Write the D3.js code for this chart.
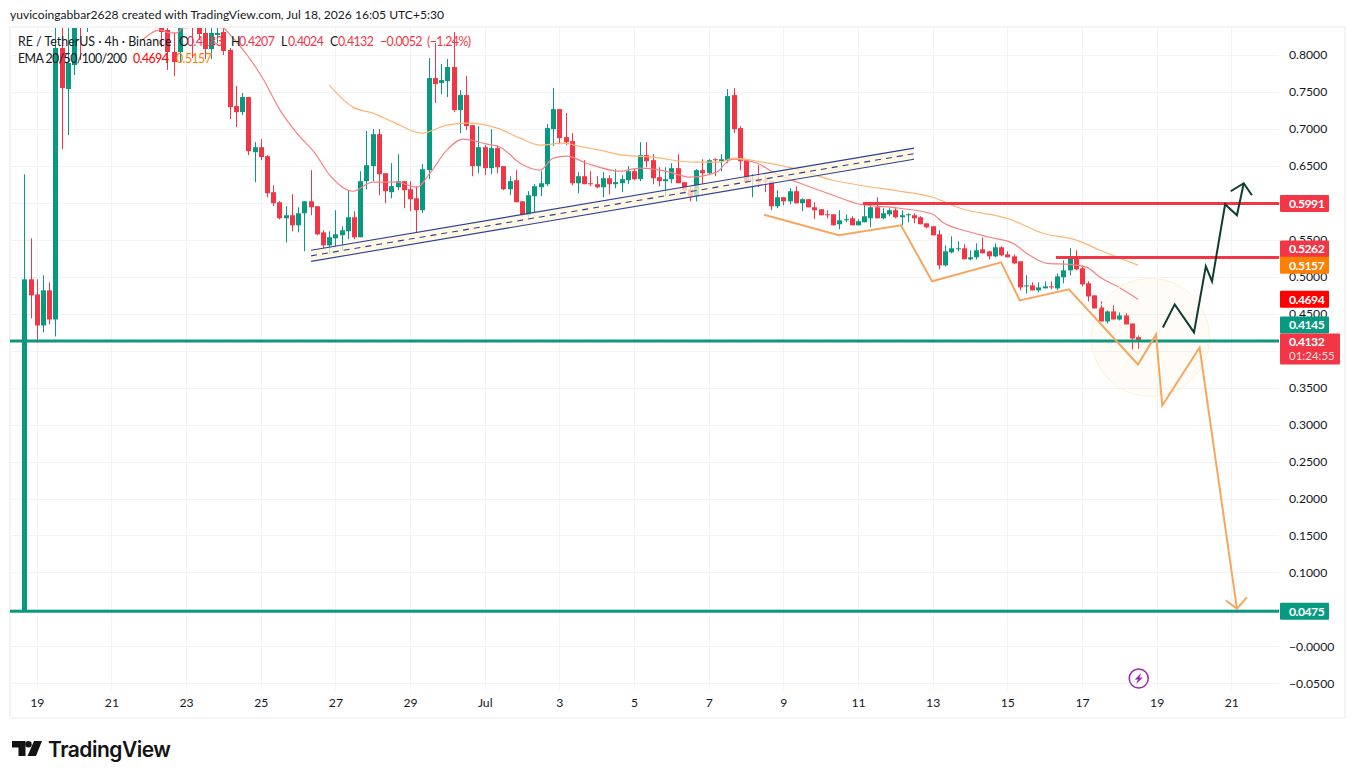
<!DOCTYPE html>
<html>
<head>
<meta charset="utf-8">
<title>RE / TetherUS</title>
<script src="https://cdn.jsdelivr.net/npm/d3@7"></script>
<style>
  html, body { margin: 0; padding: 0; background: #fff; }
  svg { display: block; }
  text { font-family: Lato, sans-serif; fill: #131722; }
</style>
</head>
<body>
<div id="chart"></div>
<script>
// 4h candles, one entry per bar. null = bar is above the visible range, cannot be read
var opens = [
  .0475,.4965,.4761,.4341,.4816,.4422,.8095,.7539,.7864,.92,
  .868,null,null,null,null,null,null,null,null,null,
  null,null,.854,.8339,.8040,.8040,null,.875,.8474,.8298,
  .8081,.8271,.8311,.8068,.7309,.7227,.7431,.6685,.6753,.6631,
  .6144,.6008,.5791,.5832,.5696,.5859,.6021,.5954,.5601,.5425,
  .5520,.5561,.5615,.5805,.5534,.6293,.6496,.6929,.6401,.6144,
  .6211,.6293,.6184,.6062,.5900,.6442,.7688,.7620,.7647,.7837,
  .7255,.7458,.7051,.6496,.6753,.6469,.6740,.6496,.6184,.6306,
  .6021,.5832,.6089,.6211,.6252,.6997,.7268,.6889,.6835,.6265,
  .6360,.6265,.6252,.6211,.6333,.6252,.6265,.6306,.6428,.6320,
  .6645,.6577,.6347,.6293,.6320,.6469,.6279,.6184,.6089,.6442,
  .6401,.6590,.6563,.6577,.7458,.7011,.6577,.6306,.6320,.6306,
  .6293,.5954,.6076,.6021,.6157,.5994,.6049,.5940,.5913,.5845,
  .5845,.5710,.5764,.5791,.5696,.5737,.5791,.5940,.5791,.5845,
  .5900,.5805,.5832,.5832,.5805,.5723,.5683,.5574,.5154,.5330,
  .5371,.5385,.5236,.5263,.5371,.5344,.5276,.5398,.5303,.5276,
  .5209,.4870,.4883,.4816,.4843,.4870,.4843,.4992,.5087,.5249,
  .5114,.4911,.4748,.4585,.4395,.4531,.4422,.4477,.4368,.4183
];
var highs = [
  .6387,.5520,.4965,.5019,.4924,.861,.854,.861,.875,.93,
  .94,null,null,null,null,null,null,null,null,null,
  null,null,.868,.8406,.8298,.875,null,.89,.861,.8366,
  .8420,.8406,.8406,.8095,.7580,.7485,.7431,.6821,.6862,.6645,
  .6238,.6021,.5954,.6116,.5940,.6021,.6442,.5954,.5629,.5615,
  .5900,.5683,.6171,.5886,.6428,.6970,.6997,.6997,.6401,.6536,
  .6658,.6293,.6293,.6225,.6523,.7959,.8162,.7878,.7946,.8311,
  .7526,.7715,.7051,.7038,.6780,.6997,.6780,.6496,.6360,.6442,
  .6021,.6157,.6252,.6428,.7065,.7553,.7268,.7214,.6943,.6415,
  .6577,.6428,.6360,.6415,.6374,.6455,.6374,.6496,.6455,.6821,
  .6821,.6658,.6482,.6482,.6536,.6658,.6279,.6211,.6455,.6590,
  .6590,.6604,.6658,.7539,.7553,.7038,.6577,.6387,.6509,.6374,
  .6293,.6171,.6076,.6198,.6225,.6062,.6049,.6008,.5913,.5900,
  .5845,.5900,.5845,.5818,.5778,.5981,.5994,.6076,.5927,.5927,
  .5927,.5900,.5859,.5859,.5818,.5723,.5683,.5629,.5425,.5547,
  .5479,.5439,.5358,.5452,.5534,.5344,.5452,.5412,.5344,.5303,
  .5209,.5019,.4924,.4924,.4938,.4938,.5046,.5222,.5385,.5358,
  .5154,.4938,.4748,.4667,.4545,.4612,.4518,.4504,.4368,.4207
];
var lows = [
  .0475,.4436,.4111,.4247,.4355,.4192,.6726,.6916,.7729,.7932,
  .8311,null,null,null,null,null,null,null,null,null,
  null,null,.8108,.7797,.7715,.7905,null,.7959,.8203,.7946,
  .7946,.8162,.8000,.7133,.7024,.7187,.6645,.6279,.6577,.6076,
  .5954,.5778,.5466,.5615,.5601,.5344,.5832,.5561,.5385,.5303,
  .5398,.5358,.5507,.5507,.5534,.6184,.6293,.6103,.5994,.6062,
  .6171,.5927,.5886,.5601,.5859,.6320,.7349,.7471,.7431,.7227,
  .6943,.6984,.6360,.6401,.6374,.6387,.6401,.6171,.6103,.6008,
  .5818,.5805,.5873,.6089,.6225,.6767,.6794,.6780,.6238,.6130,
  .6252,.6225,.6198,.6076,.6116,.6198,.6144,.6252,.6306,.6293,
  .6482,.6252,.6225,.6089,.6265,.6265,.6130,.6021,.6021,.6252,
  .6387,.6360,.6428,.6536,.6943,.6442,.6279,.6076,.6211,.6144,
  .5900,.5927,.5967,.5981,.5994,.5886,.5940,.5778,.5832,.5791,
  .5696,.5642,.5737,.5696,.5696,.5737,.5669,.5791,.5778,.5818,
  .5791,.5696,.5737,.5723,.5710,.5656,.5561,.5100,.5141,.5317,
  .5344,.5236,.5222,.5236,.5317,.5236,.5263,.5276,.5263,.5168,
  .4816,.4775,.4816,.4789,.4843,.4829,.4816,.4911,.5019,.5087,
  .4870,.4667,.4572,.4395,.4368,.4422,.4409,.4355,.4016,.4024
];
var closes = [
  .4965,.4748,.4341,.4816,.4422,.8095,.7553,.7891,.861,.861,
  .93,null,null,null,null,null,null,null,null,null,
  null,null,.8311,.8040,.7905,.861,null,.8474,.8284,.8081,
  .8298,.8298,.8054,.7295,.7227,.7431,.6699,.6753,.6618,.6130,
  .5994,.5791,.5832,.5696,.5859,.6021,.5940,.5574,.5425,.5534,
  .5574,.5629,.5805,.5534,.6293,.6509,.6929,.6387,.6157,.6225,
  .6293,.6171,.6049,.5900,.6455,.7688,.7607,.7661,.7837,.7255,
  .7458,.7038,.6496,.6753,.6469,.6740,.6482,.6184,.6293,.6008,
  .5832,.6103,.6225,.6265,.7011,.7268,.6875,.6821,.6265,.6360,
  .6252,.6252,.6211,.6333,.6252,.6279,.6320,.6428,.6320,.6645,
  .6563,.6333,.6293,.6320,.6469,.6265,.6171,.6089,.6442,.6401,
  .6577,.6577,.6590,.7444,.6997,.6563,.6279,.6320,.6279,.6293,
  .5954,.6076,.6021,.6157,.5994,.6049,.5940,.5900,.5832,.5832,
  .5696,.5764,.5778,.5696,.5751,.5818,.5940,.5791,.5859,.5900,
  .5805,.5832,.5845,.5791,.5710,.5669,.5561,.5154,.5344,.5385,
  .5385,.5236,.5263,.5358,.5317,.5276,.5398,.5290,.5263,.5181,
  .4856,.4883,.4816,.4856,.4870,.4856,.5005,.5087,.5249,.5100,
  .4897,.4734,.4572,.4395,.4531,.4422,.4477,.4355,.4165,.4132
];

// EMA lines: bar number and price at the points
var ema20Bars = [19,20.2,21.8,23.4,24.5,25.5,29.4,31.9,33.1,35.8,38.2,41.1,43.8,46.7,49.1,52.8,56,59.9,63.1,65.2,67.9,70.5,74.4,76.5,79.7,82.9,85,87.2,90.4,95.7,98.9,102.2,104.3,107,111.3,112.9,113.9,117.8,120.3,124.7,130,134.3,140.7,146,147.6,151.5,155.2,158.9,161.6,164.4,168,170.8,172.9,176,179];
var ema20Values = [.8203,.8284,.8339,.8298,.8298,.8366,.8379,.8366,.8271,.8000,.7702,.7255,.6943,.6672,.6374,.6157,.6279,.6279,.6211,.6401,.6713,.6862,.6794,.6753,.6536,.6442,.6604,.6631,.6536,.6428,.6469,.6442,.6401,.6347,.6415,.6550,.6590,.6536,.6415,.6265,.6103,.5981,.5927,.5845,.5737,.5615,.5534,.5452,.5290,.5181,.5168,.5127,.4992,.4856,.4694];
var ema50Bars = [49,52.8,56,59.3,63.9,67.9,71.2,76,79.7,82.9,86.6,89.8,92.5,96.2,101,107.5,111.8,113.9,118.7,123.5,130,134.3,140.7,146,150.4,158.4,163.7,169.2,172.9,179];
var ema50Values = [.7593,.7295,.7214,.7092,.6943,.7051,.7078,.7011,.6875,.6780,.6807,.6753,.6713,.6645,.6618,.6550,.6550,.6604,.6550,.6469,.6306,.6238,.6157,.6076,.5927,.5778,.5588,.5493,.5358,.5157];

// drawings on the chart, bar number + price
var channelBars = [46.1, 143];
var channelTop = [.5358, .6740];
var channelMid = [.5283, .6665];
var channelBottom = [.5208, .6590];

var bearBars = [118.9,130.9,140.9,145.9,157,160,167.9,179,181.9,182.9,188.9,194.9];
var bearPrices = [.5838,.5561,.5696,.4938,.5195,.4680,.4829,.3813,.4219,.3257,.4043,.0507];
var bearHeadBars = [193.1,194.9,196.5];
var bearHeadPrices = [.0624,.0507,.0665];

var bullBars = [183,184.9,188,189.9,190.9,193,194.9,196];
var bullPrices = [.4314,.4626,.4247,.5141,.4938,.5981,.5832,.6265];
var bullHeadBars = [193.9,196,197.3];
var bullHeadPrices = [.6157,.6265,.6103];

var circleBar = 181, circlePrice = .4179, circleBarRadius = 9.5;

// horizontal levels
var levelPrices = [.4132, .0475, .5991, .5262];
var levelStartBars = [null, null, 134.8, 165.8];
var levelColors = ["#089981", "#089981", "#f23645", "#f23645"];

// axis ticks, the empty labels sit fully behind a price tag in the picture
var priceTicks = [.8,.75,.7,.65,.6,.55,.5,.45,.4,.35,.3,.25,.2,.15,.1,.05,0,-.05];
var priceTickLabels = ["0.8000","0.7500","0.7000","0.6500","","0.5500","0.5000","0.4500","","0.3500","0.3000","0.2500","0.2000","0.1500","0.1000","","\u22120.0000","\u22120.0500"];
var timeTickBars = [2,14,26,38,50,62,74,86,98,110,122,134,146,158,170,182,194];
var timeTickLabels = ["19","21","23","25","27","29","Jul","3","5","7","9","11","13","15","17","19","21"];

// price tags on the right, nudge = how far the tag is pushed off its price to avoid overlap
var tagValues = [.5991,.5262,.5157,.4694,.4145,.0475];
var tagLabels = ["0.5991","0.5262","0.5157","0.4694","0.4145","0.0475"];
var tagColors = ["#f23645","#f23645","#ff7f00","#ff0000","#089981","#089981"];
var tagNudge = [0,-8.5,0,0,-15,0];

var svgWidth = 1355;
var svgHeight = 779;
var plot = { left: 10, right: 1279, top: 28, bottom: 690 };
var up = "#089981";
var down = "#f23645";

var svg = d3.select("#chart").append("svg")
  .attr("width", svgWidth)
  .attr("height", svgHeight);

var x = d3.scaleLinear().domain([0, 179]).range([24.3, 1138]);
var y = d3.scaleLinear().domain([.8, -.05]).range([55, 683.3]);

svg.append("defs").append("clipPath").attr("id", "plotClip")
  .append("rect")
  .attr("x", plot.left).attr("y", plot.top)
  .attr("width", plot.right - plot.left).attr("height", plot.bottom - plot.top);

// header
svg.append("text")
  .attr("x", 10).attr("y", 19)
  .style("font-size", "12.1px")
  .text("yuvicoingabbar2628 created with TradingView.com, Jul 18, 2026 16:05 UTC+5:30");

// pane frame
svg.append("rect")
  .attr("x", 10).attr("y", 27)
  .attr("width", 1335).attr("height", 691)
  .attr("fill", "none").attr("stroke", "#f4f4f4").attr("stroke-width", 2);

// grid
svg.append("g").selectAll("line").data(priceTicks).enter().append("line")
  .attr("x1", plot.left).attr("x2", plot.right)
  .attr("y1", d => Math.round(y(d)) + .5).attr("y2", d => Math.round(y(d)) + .5)
  .attr("stroke", "#f2f3f5");
svg.append("g").selectAll("line").data(timeTickBars).enter().append("line")
  .attr("x1", d => Math.round(x(d)) + .5).attr("x2", d => Math.round(x(d)) + .5)
  .attr("y1", plot.top).attr("y2", plot.bottom)
  .attr("stroke", "#f2f3f5");

var chartGroup = svg.append("g").attr("clip-path", "url(#plotClip)");

// candles
var bars = d3.range(opens.length).filter(i => opens[i] !== null);
chartGroup.append("g").selectAll("line").data(bars).enter().append("line")
  .attr("x1", i => Math.round(x(i)) + .5).attr("x2", i => Math.round(x(i)) + .5)
  .attr("y1", i => y(highs[i])).attr("y2", i => y(lows[i]))
  .attr("stroke", i => closes[i] >= opens[i] ? up : down);
chartGroup.append("g").selectAll("rect").data(bars).enter().append("rect")
  .attr("x", i => Math.round(x(i)) - 2)
  .attr("width", 5)
  .attr("y", i => y(Math.max(opens[i], closes[i])))
  .attr("height", i => Math.max(1, Math.abs(y(opens[i]) - y(closes[i]))))
  .attr("fill", i => closes[i] >= opens[i] ? up : down);

// EMAs
var emaLine = d3.line().x(d => x(d[0])).y(d => y(d[1])).curve(d3.curveMonotoneX);
chartGroup.append("path")
  .attr("d", emaLine(d3.zip(ema20Bars, ema20Values)))
  .attr("fill", "none").attr("stroke", "#f98080").attr("stroke-width", 1.2);
chartGroup.append("path")
  .attr("d", emaLine(d3.zip(ema50Bars, ema50Values)))
  .attr("fill", "none").attr("stroke", "#ffb470").attr("stroke-width", 1.2);

// parallel channel
var straight = d3.line().x(d => x(d[0])).y(d => y(d[1]));
var channelArea = d3.area().x(d => x(d[0])).y0(d => y(d[1])).y1(d => y(d[2]));
chartGroup.append("path")
  .attr("d", channelArea(d3.zip(channelBars, channelTop, channelBottom)))
  .attr("fill", "#fff6d9").attr("fill-opacity", .75);
[channelTop, channelBottom].forEach(function(side) {
  chartGroup.append("path")
    .attr("d", straight(d3.zip(channelBars, side)))
    .attr("fill", "none").attr("stroke", "#2a3f9d").attr("stroke-width", 1.1);
});
chartGroup.append("path")
  .attr("d", straight(d3.zip(channelBars, channelMid)))
  .attr("fill", "none").attr("stroke", "#2a3f9d").attr("stroke-width", 1.1)
  .attr("stroke-dasharray", "6 5");

// highlight circle
chartGroup.append("circle")
  .attr("cx", x(circleBar)).attr("cy", y(circlePrice))
  .attr("r", x(circleBar + circleBarRadius) - x(circleBar))
  .attr("fill", "#ffc55c").attr("fill-opacity", .05)
  .attr("stroke", "#ffefd9").attr("stroke-width", 1);

// levels
levelPrices.forEach(function(p, i) {
  chartGroup.append("line")
    .attr("x1", levelStartBars[i] === null ? plot.left : x(levelStartBars[i]))
    .attr("x2", plot.right)
    .attr("y1", y(p)).attr("y2", y(p))
    .attr("stroke", levelColors[i]).attr("stroke-width", 3);
});
// last price line, dotted
chartGroup.append("line")
  .attr("x1", plot.left).attr("x2", plot.right)
  .attr("y1", y(closes[closes.length - 1]) + 1).attr("y2", y(closes[closes.length - 1]) + 1)
  .attr("stroke", down).attr("stroke-opacity", .4).attr("stroke-width", 1).attr("stroke-dasharray", "1 2");

// projection paths
var drawPath = function(barsIn, pricesIn, color, width) {
  chartGroup.append("path")
    .attr("d", straight(d3.zip(barsIn, pricesIn)))
    .attr("fill", "none").attr("stroke", color).attr("stroke-width", width);
};
drawPath(bearBars, bearPrices, "#f6a75e", 2);
drawPath(bearHeadBars, bearHeadPrices, "#f6a75e", 2);
drawPath(bullBars, bullPrices, "#0f3d30", 2);
drawPath(bullHeadBars, bullHeadPrices, "#0f3d30", 2);

// price axis
var priceAxis = svg.append("g")
  .attr("transform", "translate(1289,0)")
  .call(d3.axisRight(y).tickValues(priceTicks).tickSize(0).tickPadding(0)
    .tickFormat((d, i) => priceTickLabels[i]));
priceAxis.select(".domain").remove();
priceAxis.selectAll("text")
  .style("font-family", "Lato, sans-serif")
  .style("font-size", "12.2px")
  .style("fill", "#131722");

// time axis
var timeAxis = svg.append("g")
  .attr("transform", "translate(0,690)")
  .call(d3.axisBottom(x).tickValues(timeTickBars).tickSize(0).tickPadding(8)
    .tickFormat((d, i) => timeTickLabels[i]));
timeAxis.select(".domain").remove();
timeAxis.selectAll("text")
  .style("font-family", "Lato, sans-serif")
  .style("font-size", "12.2px")
  .style("fill", "#131722");

// price tags
var tags = svg.append("g").selectAll("g").data(tagValues).enter().append("g")
  .attr("transform", (d, i) => `translate(1280,${y(d) + tagNudge[i] - 8.5})`);
tags.append("rect")
  .attr("width", 49).attr("height", 17).attr("rx", 1)
  .attr("fill", (d, i) => tagColors[i]);
tags.append("text")
  .attr("x", 9).attr("y", 13)
  .style("font-size", "12.2px").style("font-weight", 700).style("letter-spacing", "-0.5px").style("fill", "#fff")
  .text((d, i) => tagLabels[i]);

// last price tag with countdown
var lastTag = svg.append("g").attr("transform", `translate(1280,${y(closes[closes.length - 1]) - 7.5})`);
lastTag.append("rect").attr("width", 60).attr("height", 31).attr("rx", 1).attr("fill", down);
lastTag.append("text").attr("x", 9).attr("y", 13)
  .style("font-size", "12.2px").style("font-weight", 700).style("letter-spacing", "-0.5px").style("fill", "#fff").text("0.4132");
lastTag.append("text").attr("x", 9).attr("y", 26.5)
  .style("font-size", "11.5px").style("fill", "#fff").style("fill-opacity", .85).text("01:24:55");

// legend
var legendRow = function(xPos, yPos, txt, color, spacing) {
  svg.append("text").attr("x", xPos).attr("y", yPos)
    .style("font-size", "12.4px").style("letter-spacing", (spacing || 0) + "px")
    .style("fill", color).text(txt);
};
legendRow(18, 46, "RE / TetherUS \u00b7 4h \u00b7 Binance", "#131722");
legendRow(179, 46, "O", "#131722");
legendRow(187, 46, "0.4183", down, -0.6);
legendRow(231, 46, "H", "#131722");
legendRow(239, 46, "0.4207", down, -0.6);
legendRow(281, 46, "L", "#131722");
legendRow(288, 46, "0.4024", down, -0.6);
legendRow(330, 46, "C", "#131722");
legendRow(338, 46, "0.4132", down, -0.6);
legendRow(380, 46, "\u22120.0052", down, -0.6);
legendRow(427, 46, "(\u22121.24%)", down, -0.6);
legendRow(18, 63, "EMA 20/50/100/200", "#131722", -0.6);
legendRow(133, 63, "0.4694", "#ff0000", -0.6);
legendRow(176, 63, "0.5157", "#ff7f00", -0.6);

// bolt marker
var bolt = svg.append("g").attr("transform", "translate(1138.7,678.5)");
bolt.append("circle").attr("r", 9.5)
  .attr("fill", "#fff").attr("stroke", "#9c27b0").attr("stroke-width", 1.5);
bolt.append("path")
  .attr("d", "M2.5,-5.5 L-4,1 L-0.8,1 L-2.5,5.5 L4,-1 L0.8,-1 Z")
  .attr("fill", "#9c27b0");

// logo
var logo = svg.append("g").attr("transform", "translate(12,741)");
logo.append("path").attr("d", "M0,0 H13.5 V15 H6.5 V6.5 H0 Z").attr("fill", "#131313");
logo.append("circle").attr("cx", 16.5).attr("cy", 3.2).attr("r", 3.2).attr("fill", "#131313");
logo.append("path").attr("d", "M22,0 H30 L24,15 H15.5 Z").attr("fill", "#131313");
svg.append("text")
  .attr("x", 48).attr("y", 756.5)
  .style("font-family", "Inter, sans-serif")
  .style("font-size", "21px").style("font-weight", 600)
  .style("letter-spacing", "-0.5px").style("fill", "#131313")
  .text("TradingView");
</script>
</body>
</html>
